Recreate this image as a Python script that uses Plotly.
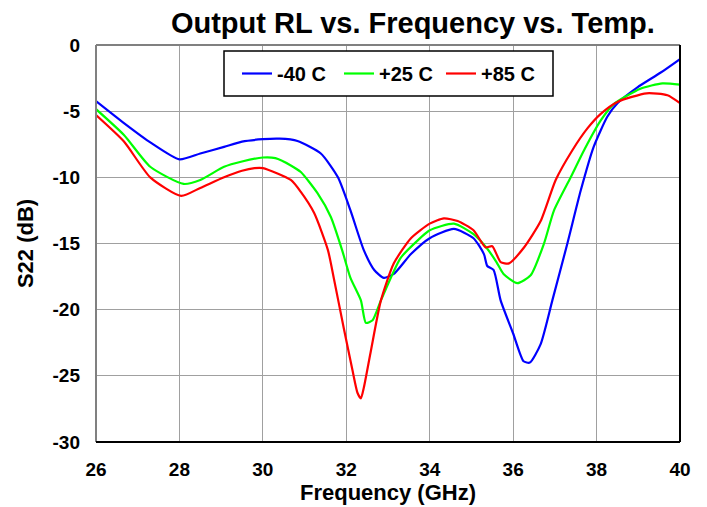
import plotly.graph_objects as go

freq_m40 = [26.0, 26.67, 27.32, 28.0, 28.5, 29.07, 29.5, 30.0, 30.4, 30.83, 31.39, 31.8, 32.1,
            32.42, 32.67, 32.9, 33.14, 33.55, 34.0, 34.58, 35.05, 35.3, 35.38, 35.53, 35.7, 36.0,
            36.25, 36.4, 36.66, 36.94, 37.3, 37.62, 37.93, 38.26, 38.5, 38.98, 39.53, 40.0]
s22_m40 = [-4.24, -5.9, -7.4, -8.64, -8.2, -7.7, -7.3, -7.12, -7.08, -7.25, -8.2, -10.0, -12.5,
           -15.5, -17.0, -17.6, -17.3, -15.8, -14.6, -13.9, -14.6, -15.8, -16.7, -17.0, -19.3, -21.8,
           -23.9, -24.0, -22.6, -19.3, -15.0, -11.0, -7.7, -5.4, -4.4, -3.2, -2.1, -1.06]

freq_p25 = [26.0, 26.67, 27.3, 28.1, 28.5, 29.07, 29.5, 30.0, 30.3, 30.67, 30.91, 31.31, 31.63,
            31.9, 32.1, 32.35, 32.47, 32.63, 32.83, 33.3, 33.7, 34.0, 34.58, 35.05, 35.38, 35.6,
            35.77, 36.1, 36.42, 36.74, 36.98, 37.38, 37.7, 38.1, 38.4, 39.05, 39.58, 40.0]
s22_p25 = [-4.85, -6.8, -9.2, -10.5, -10.2, -9.2, -8.8, -8.5, -8.55, -9.1, -9.6, -11.2, -13.0,
           -15.5, -17.6, -19.3, -21.0, -20.8, -19.3, -16.1, -14.8, -14.0, -13.5, -14.3, -15.4, -16.4,
           -17.3, -18.0, -17.4, -15.0, -12.5, -10.0, -7.95, -5.7, -4.5, -3.3, -2.9, -3.0]

freq_p85 = [26.0, 26.67, 27.3, 28.04, 28.5, 29.07, 29.5, 29.8, 30.0, 30.67, 30.91, 31.23, 31.56,
            31.7, 31.94, 32.15, 32.27, 32.35, 32.42, 32.59, 32.83, 33.14, 33.55, 34.0, 34.34, 34.67,
            35.05, 35.34, 35.5, 35.7, 35.9, 36.26, 36.66, 37.02, 37.42, 37.78, 38.1, 38.5, 39.2,
            39.7, 40.0]
s22_p85 = [-5.3, -7.3, -10.0, -11.4, -10.8, -10.0, -9.5, -9.3, -9.3, -10.2, -11.1, -12.7, -15.5,
           -17.6, -21.4, -24.6, -26.3, -26.7, -25.9, -23.1, -19.3, -16.5, -14.6, -13.5, -13.1, -13.3,
           -14.0, -15.3, -15.2, -16.4, -16.5, -15.3, -13.3, -10.2, -7.95, -6.3, -5.2, -4.3, -3.65,
           -3.8, -4.4]

names = ["-40 C", "+25 C", "+85 C"]
colors = ["#0000ff", "#00ff00", "#ff0000"]
x_ticks = [26, 28, 30, 32, 34, 36, 38, 40]
y_ticks = [0, -5, -10, -15, -20, -25, -30]

FONT = "Liberation Sans, Arial, sans-serif"

fig = go.Figure()
for f, s, n, c in zip([freq_m40, freq_p25, freq_p85], [s22_m40, s22_p25, s22_p85], names, colors):
    fig.add_trace(go.Scatter(x=f, y=s, name=n, mode="lines",
                             line=dict(color=c, width=2.2, shape="spline", smoothing=0.6)))

fig.update_layout(
    width=707, height=507,
    margin=dict(l=96, r=27, t=45, b=65),
    paper_bgcolor="white", plot_bgcolor="white",
    font=dict(family=FONT, color="black", size=19, weight="bold"),
    title=dict(text="Output RL vs. Frequency vs. Temp.", x=0.584, xref="container", xanchor="center",
               y=1 - 23 / 507, yref="container", yanchor="middle",
               font=dict(family=FONT, size=29, color="black", weight="bold")),
    legend=dict(orientation="h", x=(237 - 96) / 584, xanchor="left",
                y=(442 - 73.5) / 397, yanchor="middle",
                borderwidth=0, bgcolor="rgba(0,0,0,0)",
                font=dict(family=FONT, size=20, weight="bold"), entrywidth=57),
    showlegend=True,
)
fig.update_xaxes(range=[26, 40], tickvals=x_ticks, ticktext=[str(v) for v in x_ticks],
                 showgrid=True, gridcolor="#a0a0a0", gridwidth=1, zeroline=False,
                 ticks="", showline=False, ticklabelstandoff=14, automargin=False,
                 title=dict(text="Frequency (GHz)", font=dict(size=22, weight="bold"), standoff=4),
                 tickfont=dict(size=19, weight="bold"))
fig.update_yaxes(range=[-30, 0], tickvals=y_ticks, ticktext=[str(v) for v in y_ticks],
                 showgrid=True, gridcolor="#a0a0a0", gridwidth=1, zeroline=False,
                 ticks="", showline=False, ticklabelstandoff=15, automargin=False,
                 title=dict(text="S22 (dB)", font=dict(size=22, weight="bold"), standoff=12),
                 tickfont=dict(size=19, weight="bold"))

# legend frame (white box, black border)
fig.add_shape(type="rect", xref="paper", yref="paper",
              x0=(224 - 96) / 584, x1=(553 - 96) / 584,
              y0=(442 - 96) / 397, y1=(442 - 51) / 397,
              fillcolor="white", line=dict(color="black", width=1.5), layer="above")

# plot frame: left/top gray, right/bottom black
fig.add_shape(type="line", xref="paper", yref="paper", x0=0, x1=0, y0=0, y1=1, line=dict(color="#808080", width=2))
fig.add_shape(type="line", xref="paper", yref="paper", x0=0, x1=1, y0=1, y1=1, line=dict(color="#808080", width=2))
fig.add_shape(type="line", xref="paper", yref="paper", x0=1, x1=1, y0=0, y1=1, line=dict(color="black", width=2))
fig.add_shape(type="line", xref="paper", yref="paper", x0=0, x1=1, y0=0, y1=0, line=dict(color="black", width=2))

fig.write_html("out.html")
